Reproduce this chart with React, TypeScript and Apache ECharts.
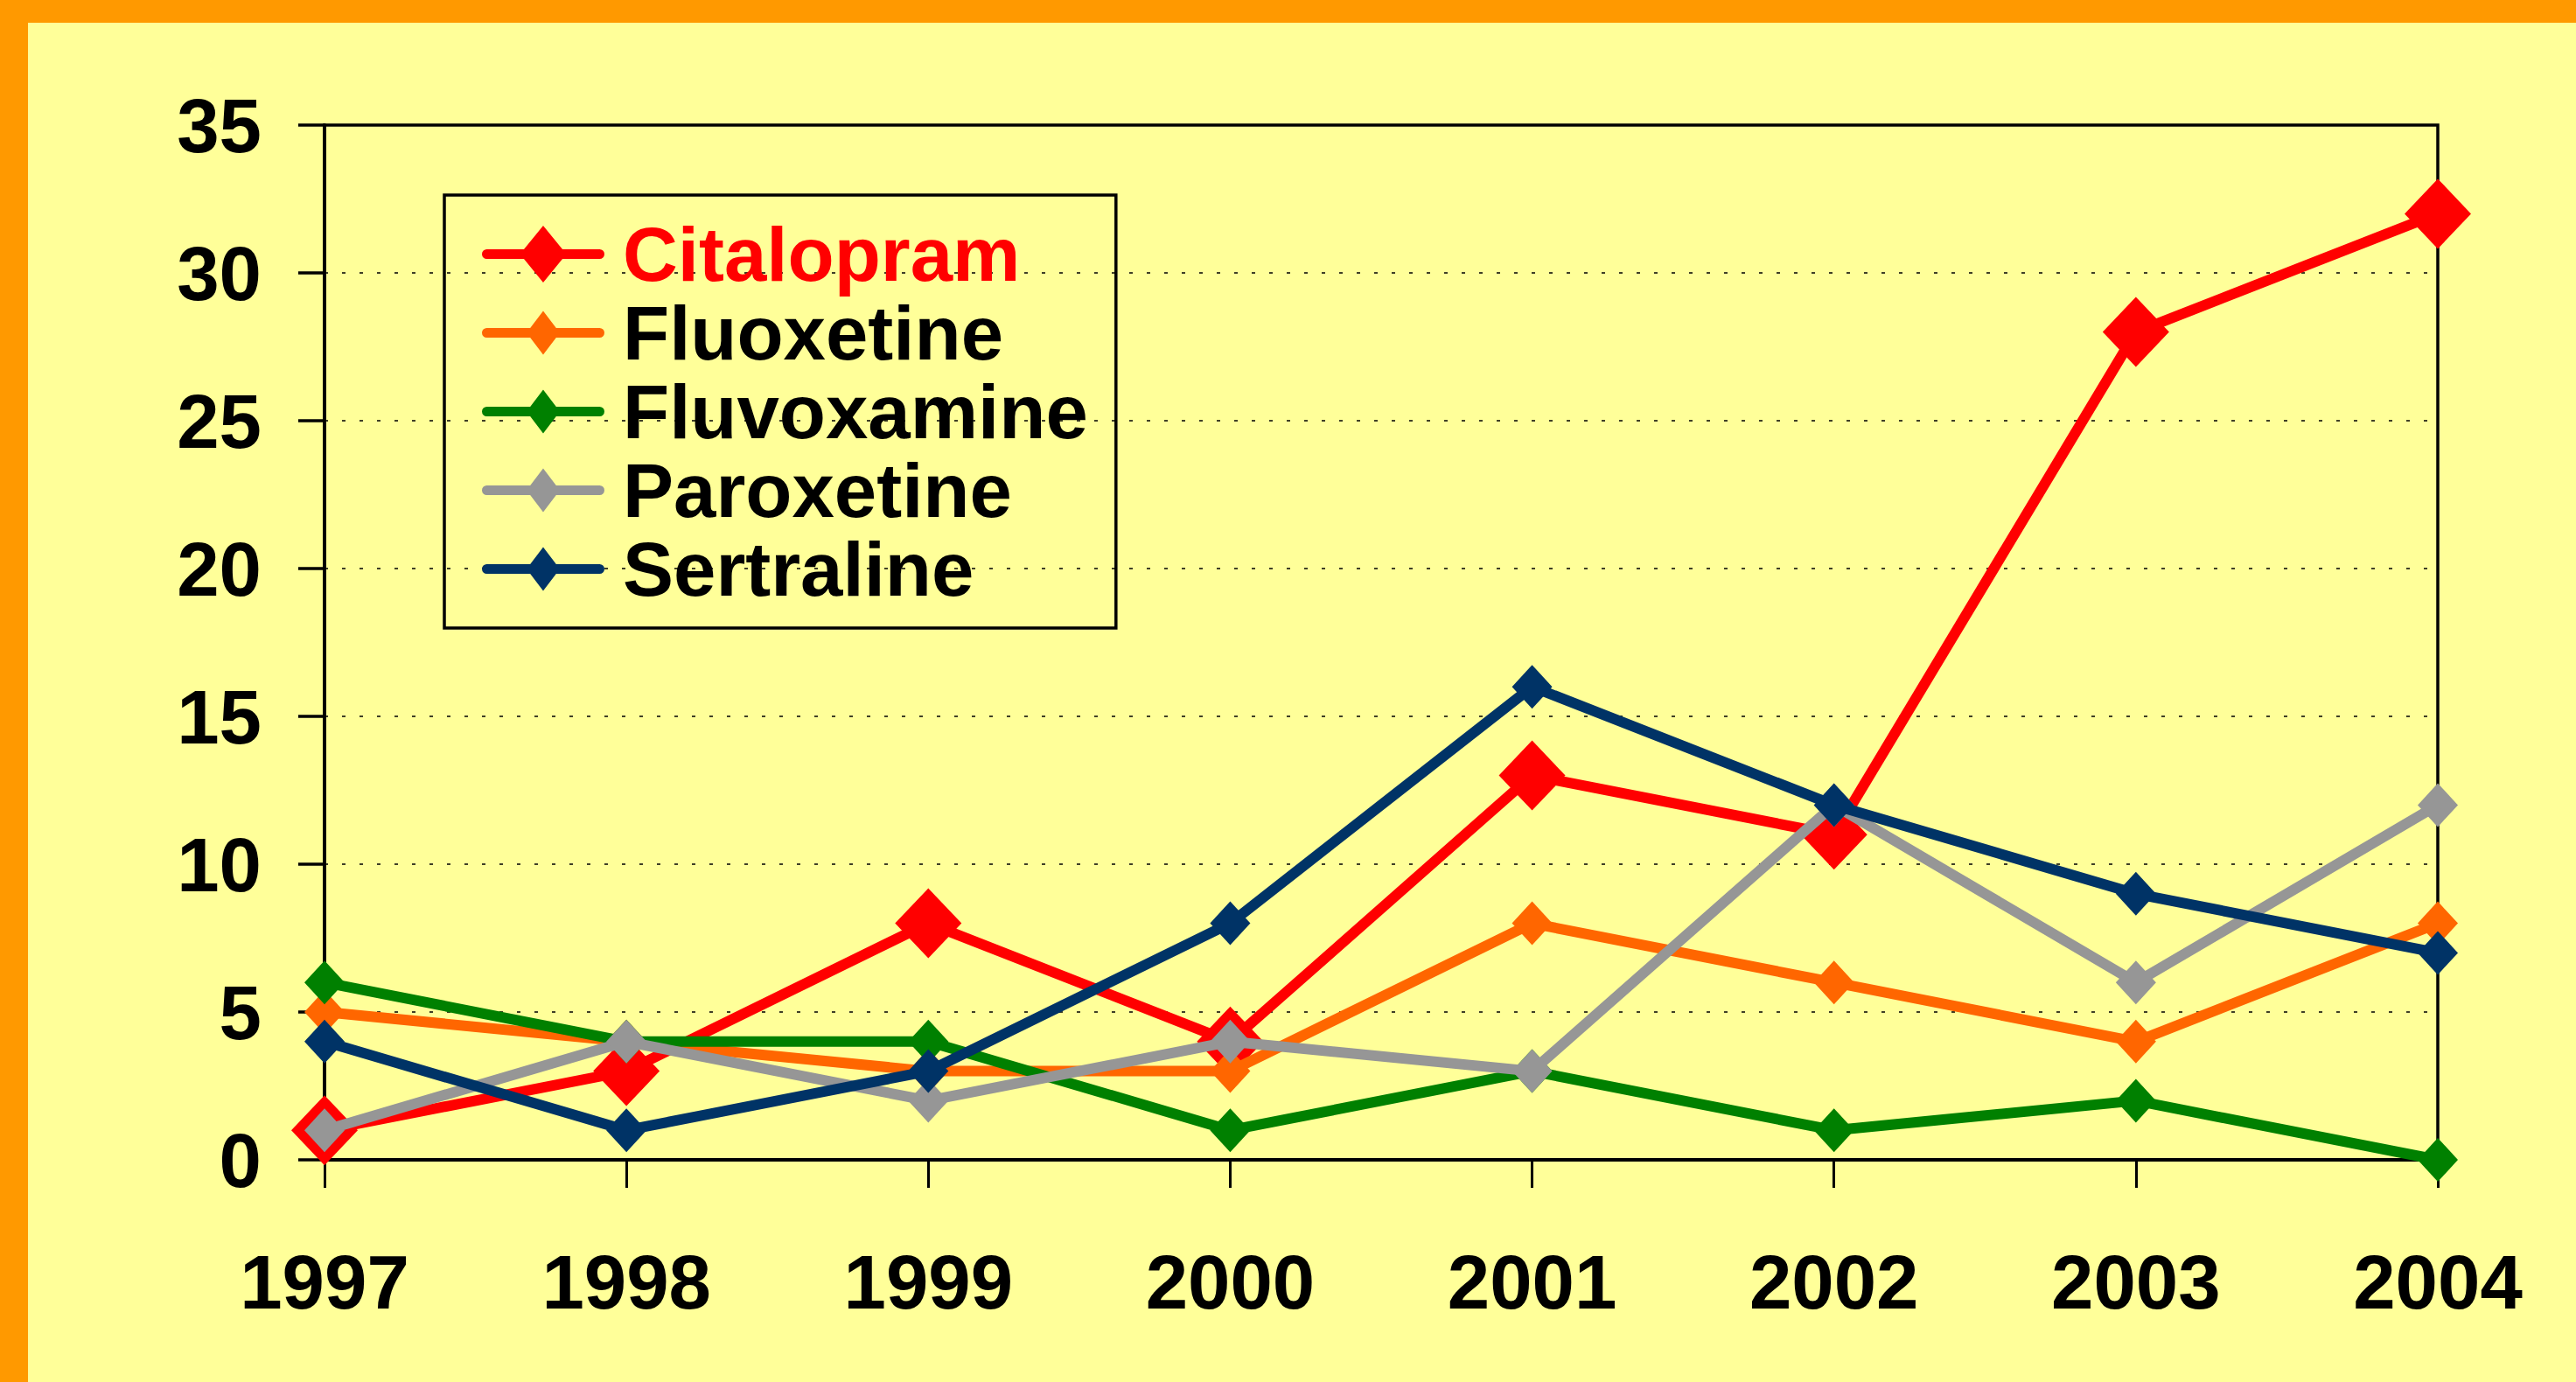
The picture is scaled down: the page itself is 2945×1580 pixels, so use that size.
import React, { useEffect, useRef } from "react";
import * as echarts from "echarts";

const years = ["1997", "1998", "1999", "2000", "2001", "2002", "2003", "2004"];
const seriesNames = ["Citalopram", "Fluoxetine", "Fluvoxamine", "Paroxetine", "Sertraline"];
const citalopram = [1, 3, 8, 4, 13, 11, 28, 32];
const fluoxetine = [5, 4, 3, 3, 8, 6, 4, 8];
const fluvoxamine = [6, 4, 4, 1, 3, 1, 2, 0];
const paroxetine = [1, 4, 2, 4, 3, 12, 6, 12];
const sertraline = [4, 1, 3, 8, 16, 12, 9, 7];
const yTicks = { min: 0, max: 35, interval: 5 };

const colors = ["#FF0000", "#FF6600", "#008000", "#969696", "#003366"];
const FONT = "'Liberation Sans', Arial, sans-serif";
const FS = 87;

const lineBar = "M5.5 27 L134.5 27 A5.5 5.5 0 0 1 134.5 38 L5.5 38 A5.5 5.5 0 0 1 5.5 27 Z";
const bigIcon =
  "path://" + lineBar + " M70 0 L96.5 32.5 L70 65 L43.5 32.5 Z M156 32 L156.01 32 L156 32.01 Z M0 32 L0.01 32 L0 32.01 Z";
const smallIcon =
  "path://" + lineBar + " M70 7.5 L89 32.5 L70 57.5 L51 32.5 Z M156 0 L156.01 0 L156 0.01 Z M156 65 L156.01 65 L156 64.99 Z M0 32 L0.01 32 L0 32.01 Z";

export default function App() {
  const ref = useRef<HTMLDivElement>(null);
  useEffect(() => {
    if (!ref.current) return;
    const chart = echarts.init(ref.current, null, { renderer: "svg" });
    const values = [citalopram, fluoxetine, fluvoxamine, paroxetine, sertraline];
    chart.setOption({
      animation: false,
      backgroundColor: "#FFFF99",
      graphic: [
        { type: "rect", z: -10, shape: { x: 0, y: 0, width: 2945, height: 26 }, style: { fill: "#FF9900" } },
        { type: "rect", z: -10, shape: { x: 0, y: 0, width: 32, height: 1580 }, style: { fill: "#FF9900" } },
      ],
      grid: {
        left: 371,
        top: 143,
        right: 158,
        bottom: 254,
        show: true,
        borderColor: "#000",
        borderWidth: 3.5,
        backgroundColor: "transparent",
      },
      legend: {
        orient: "vertical",
        left: 508,
        top: 223,
        padding: [24, 32, 24, 43],
        borderColor: "#000",
        borderWidth: 3.5,
        itemWidth: 156,
        itemHeight: 65,
        itemGap: 3,
        selectedMode: false,
        itemStyle: { borderWidth: 0 },
        textStyle: {
          fontFamily: FONT,
          fontWeight: "bold",
          fontSize: FS,
          color: "#000",
        },
        data: seriesNames.map((n, i) => ({
          name: n,
          icon: i === 0 ? bigIcon : smallIcon,
          textStyle: { color: i === 0 ? "#FF0000" : "#000" },
        })),
      },
      xAxis: {
        type: "category",
        data: years,
        boundaryGap: false,
        axisLine: { lineStyle: { color: "#000", width: 4 } },
        axisTick: { show: true, length: 32, alignWithLabel: true, lineStyle: { color: "#000", width: 3 } },
        axisLabel: {
          margin: 96,
          fontFamily: FONT,
          fontWeight: "bold",
          fontSize: FS,
          lineHeight: FS,
          color: "#000",
        },
        splitLine: { show: false },
      },
      yAxis: {
        type: "value",
        min: yTicks.min,
        max: yTicks.max,
        interval: yTicks.interval,
        axisLine: { show: true, lineStyle: { color: "#000", width: 4 } },
        axisTick: { show: true, length: 30, lineStyle: { color: "#000", width: 3.5 } },
        axisLabel: {
          margin: 72,
          fontFamily: FONT,
          fontWeight: "bold",
          fontSize: FS,
          color: "#000",
        },
        splitLine: { show: true, lineStyle: { color: "#000", width: 1.5, type: [4, 16] } },
      },
      series: seriesNames.map((n, i) => ({
        name: n,
        type: "line",
        data: values[i],
        symbol: "diamond",
        symbolSize: i === 0 ? [76, 80] : [46, 50],
        showAllSymbol: true,
        lineStyle: { color: colors[i], width: 12, cap: "round", join: "round" },
        itemStyle: { color: colors[i], borderWidth: 0 },
        emphasis: { disabled: true },
        z: 2 + i,
      })),
    });
    return () => chart.dispose();
  }, []);
  return (
    <div
      ref={ref}
      style={{ position: "absolute", left: 0, top: 0, width: 2945, height: 1580 }}
    />
  );
}
